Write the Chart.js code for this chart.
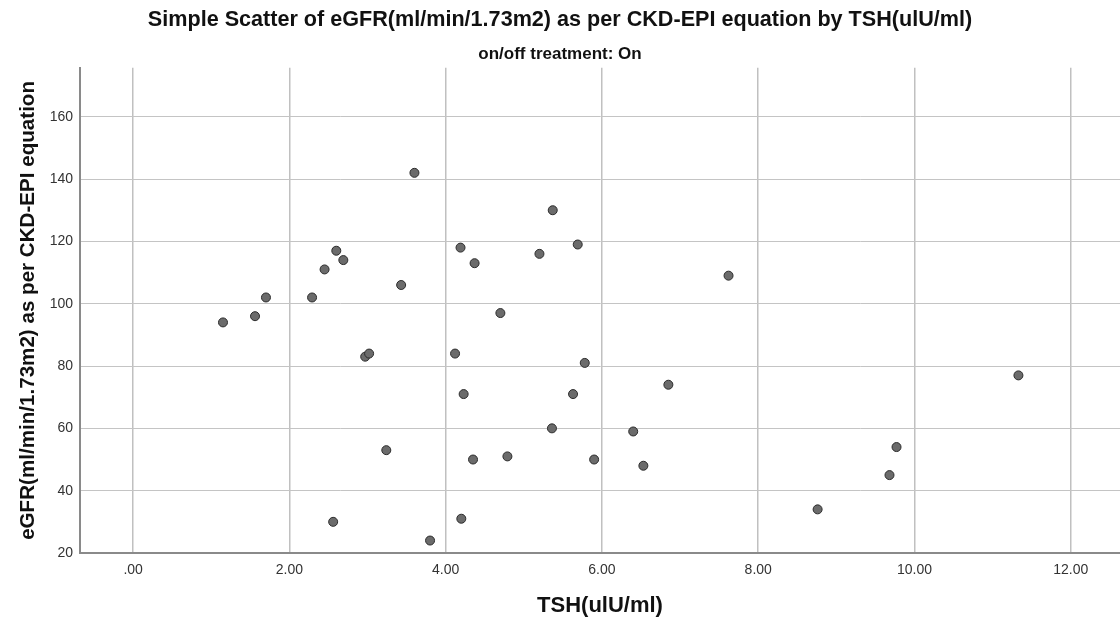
<!DOCTYPE html>
<html>
<head>
<meta charset="utf-8">
<script src="https://cdn.jsdelivr.net/npm/chart.js@4/dist/chart.umd.min.js"></script>
<style>
  html, body { margin: 0; padding: 0; background: #fff; }
  #wrap { width: 1120px; height: 619px; position: relative; }
</style>
</head>
<body>
<div id="wrap"><canvas id="myChart"></canvas></div>
<script>
// TSH (x) and eGFR (y)
var tsh  = [1.15, 1.56, 1.70, 2.29, 2.45, 2.56, 2.60, 2.69, 2.97, 3.02,
            3.24, 3.43, 3.60, 3.80, 4.12, 4.19, 4.20, 4.23, 4.35, 4.37,
            4.70, 4.79, 5.20, 5.36, 5.37, 5.63, 5.69, 5.78, 5.90, 6.40,
            6.53, 6.85, 7.62, 8.76, 9.68, 9.77, 11.33];
var egfr = [94, 96, 102, 102, 111, 30, 117, 114, 83, 84,
            53, 106, 142, 24, 84, 118, 31, 71, 50, 113,
            97, 51, 116, 60, 130, 71, 119, 81, 50, 59,
            48, 74, 109, 34, 45, 54, 77];

var xTicks = [0, 2, 4, 6, 8, 10, 12];
var yTicks = [20, 40, 60, 80, 100, 120, 140, 160];

var fontFam = "Arial, 'Liberation Sans', sans-serif";

document.addEventListener("DOMContentLoaded", function () {
    var ctx = document.getElementById("myChart").getContext("2d");

    var points = tsh.map(function (x, i) { return { x: x, y: egfr[i] }; });

    new Chart(ctx, {
        type: "scatter",
        data: {
            datasets: [{
                data: points,
                backgroundColor: "#6b6b6b",
                borderColor: "#2b2b2b",
                borderWidth: 1,
                pointRadius: 4.5,
            }],
        },
        options: {
            responsive: true,
            maintainAspectRatio: false,
            animation: false,
            layout: { padding: 0, autoPadding: false },
            plugins: {
                legend: { display: false },
                tooltip: { enabled: false },
                title: {
                    display: true,
                    text: "Simple Scatter of eGFR(ml/min/1.73m2) as per CKD-EPI equation by TSH(ulU/ml)",
                    color: "#111",
                    font: { family: fontFam, size: 21.6, weight: "bold" },
                    padding: { top: 7, bottom: 8 },
                },
                subtitle: {
                    display: true,
                    text: "on/off treatment: On",
                    color: "#111",
                    font: { family: fontFam, size: 17, weight: "bold" },
                    padding: { top: 3.5, bottom: 3 },
                },
            },
            scales: {
                x: {
                    type: "linear",
                    min: -0.68,
                    max: 12.63,
                    afterBuildTicks: function (scale) {
                        scale.ticks = xTicks.map(function (v) { return { value: v }; });
                    },
                    afterFit: function (scale) {
                        scale.height = 66;
                        scale.paddingLeft = 0;
                        scale.paddingRight = 0;
                    },
                    grid: { color: "#c0c0c0", lineWidth: 1.5, drawTicks: false },
                    border: { color: "#8a8a8a", width: 2 },
                    ticks: {
                        padding: 9,
                        color: "#333",
                        font: { family: fontFam, size: 14 },
                        callback: function (v) { return v.toFixed(2).replace(/^0\./, "."); },
                    },
                    title: {
                        display: true,
                        text: "TSH(ulU/ml)",
                        color: "#111",
                        font: { family: fontFam, size: 22, weight: "bold" },
                        padding: { top: 0, bottom: 0 },
                    },
                },
                y: {
                    min: 20,
                    max: 175.7,
                    afterBuildTicks: function (scale) {
                        scale.ticks = yTicks.map(function (v) { return { value: v }; });
                    },
                    afterFit: function (scale) { scale.width = 80; },
                    grid: { color: "#c4c4c4", lineWidth: 1, drawTicks: false },
                    border: { color: "#8a8a8a", width: 2 },
                    ticks: {
                        padding: 7,
                        color: "#333",
                        font: { family: fontFam, size: 14 },
                    },
                    title: {
                        display: true,
                        text: "eGFR(ml/min/1.73m2) as per CKD-EPI equation",
                        color: "#111",
                        font: { family: fontFam, size: 20.6, weight: "bold" },
                        padding: { top: 16, bottom: 0 },
                    },
                },
            },
        },
    });
});
</script>
</body>
</html>
